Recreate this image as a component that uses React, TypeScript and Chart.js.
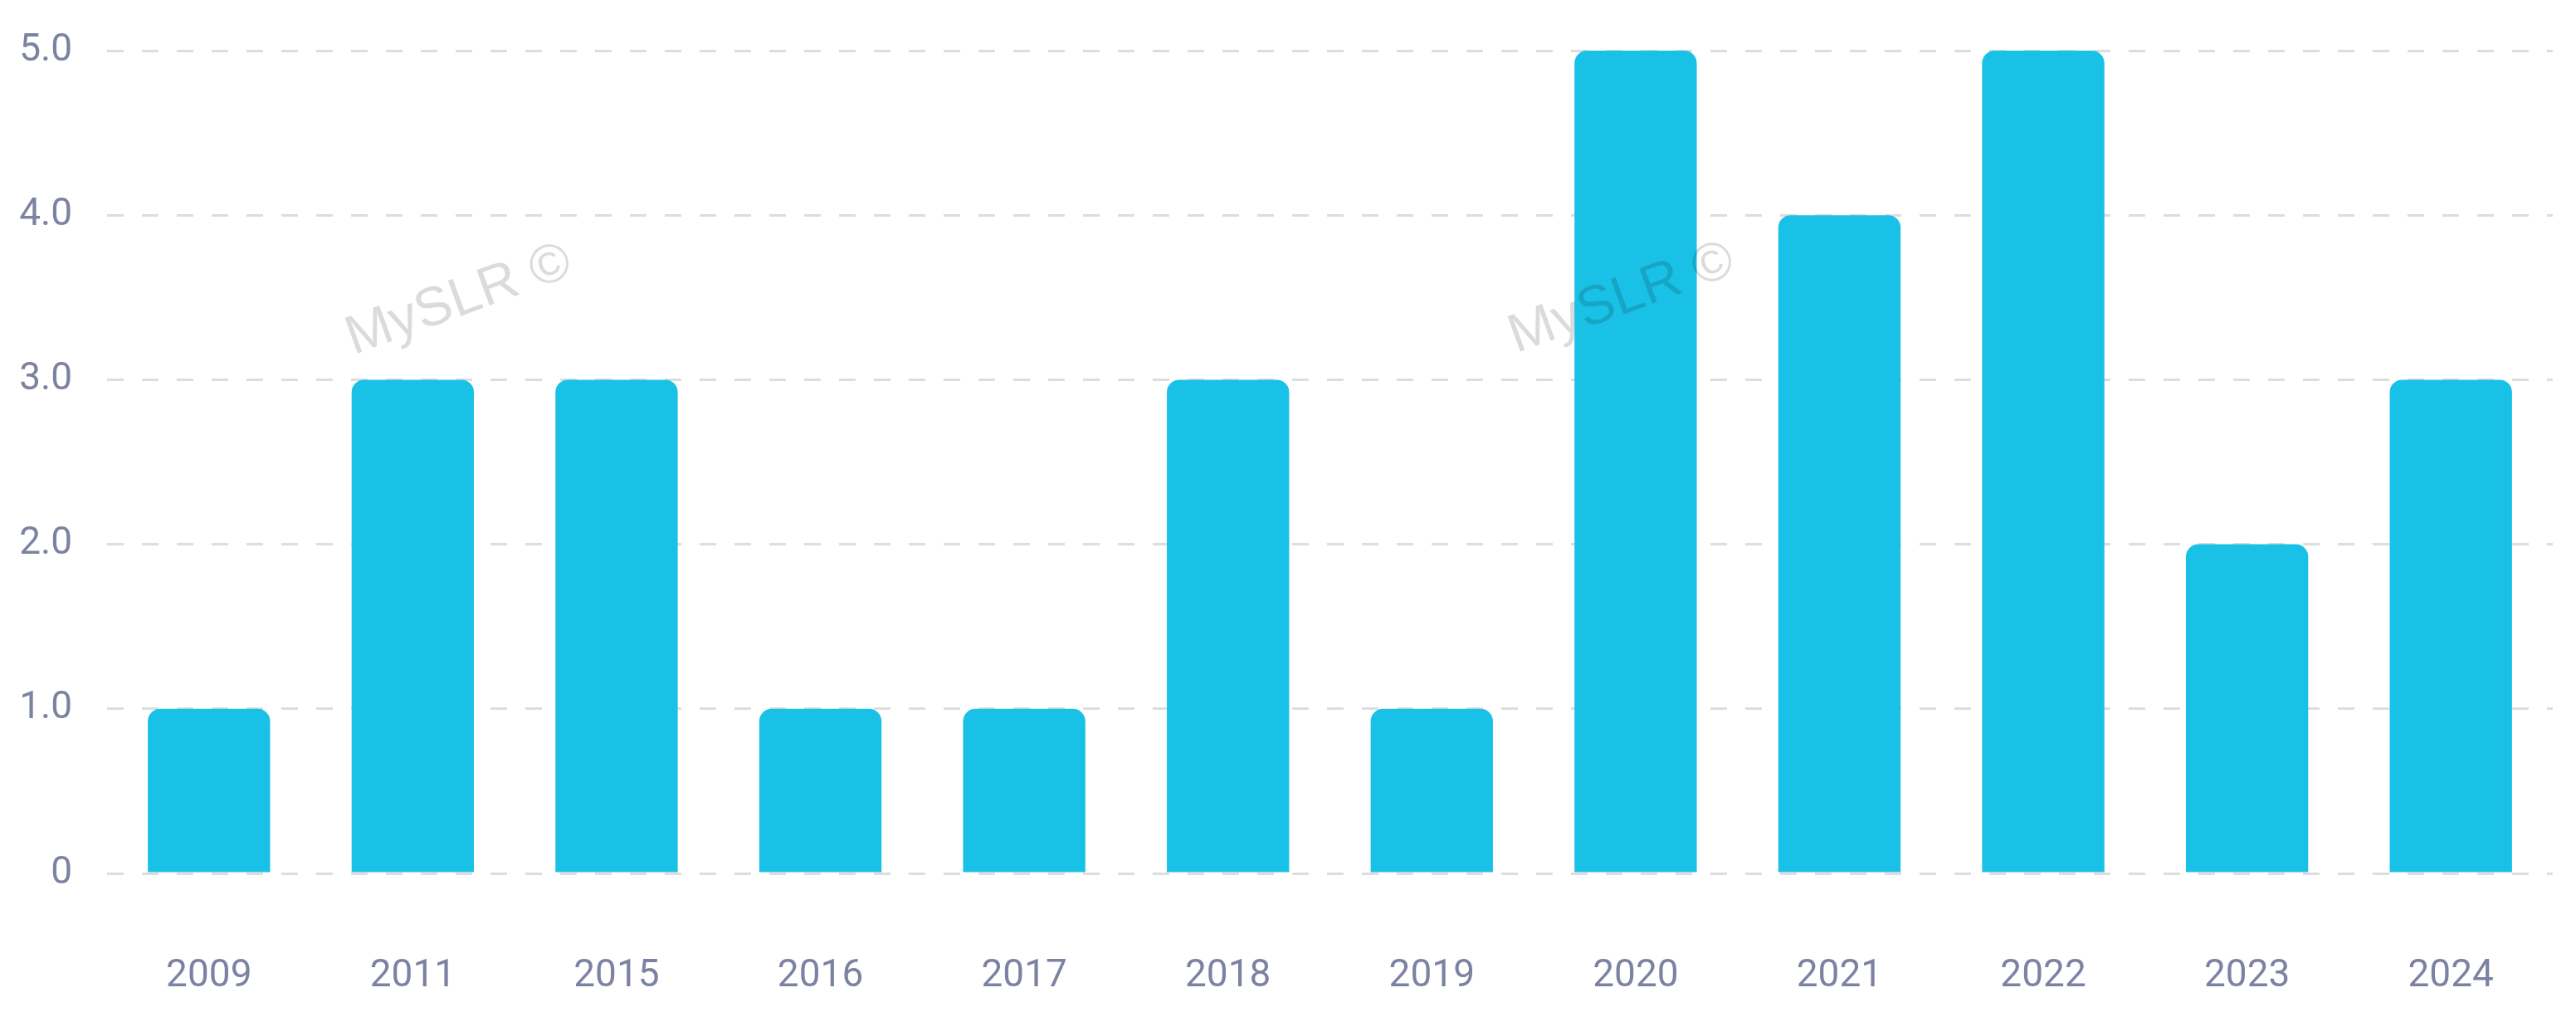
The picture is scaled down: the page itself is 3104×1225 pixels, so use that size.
import React, { useEffect, useRef } from "react";
import { Chart, registerables } from "chart.js";

Chart.register(...registerables);

const years: string[] = ["2009", "2011", "2015", "2016", "2017", "2018", "2019", "2020", "2021", "2022", "2023", "2024"];
const counts: number[] = [1, 3, 3, 1, 1, 3, 1, 5, 4, 5, 2, 3];
const yTicks: number[] = [0, 1, 2, 3, 4, 5];
const watermarkText = "MySLR ©";

const watermarkPlugin = {
  id: "watermark",
  afterDatasetsDraw(chart: any) {
    const ctx = chart.ctx;
    const spots = [
      [553, 362],
      [1954, 360],
    ];
    ctx.save();
    ctx.font = "66px 'Liberation Sans', Arial, sans-serif";
    ctx.fillStyle = "rgba(0,0,0,0.14)";
    ctx.textAlign = "center";
    ctx.textBaseline = "middle";
    for (const [x, y] of spots) {
      ctx.save();
      ctx.translate(x, y);
      ctx.rotate((-20 * Math.PI) / 180);
      ctx.fillText(watermarkText, 0, 0);
      ctx.restore();
    }
    ctx.restore();
  },
};

export default function App() {
  const canvasRef = useRef<HTMLCanvasElement | null>(null);

  useEffect(() => {
    if (!canvasRef.current) return;
    const labelColor = "#7c83a2";
    const chart = new Chart(canvasRef.current, {
      type: "bar",
      data: {
        labels: years,
        datasets: [
          {
            data: counts,
            backgroundColor: "#1ac1e6",
            borderWidth: 0,
            borderRadius: { topLeft: 15, topRight: 15, bottomLeft: 0, bottomRight: 0 },
            borderSkipped: "start",
            barPercentage: 0.6,
            categoryPercentage: 1,
          },
        ],
      },
      options: {
        animation: false,
        responsive: false,
        devicePixelRatio: 1,
        layout: { padding: { left: 0, right: 28, top: 61, bottom: 30 } },
        plugins: { legend: { display: false }, tooltip: { enabled: false } },
        scales: {
          x: {
            afterFit: (axis: any) => {
              axis.height = 143;
              axis.paddingLeft = 0;
              axis.paddingRight = 0;
            },
            grid: { display: false, drawTicks: false },
            border: { display: false },
            ticks: {
              color: labelColor,
              font: { family: "Roboto", size: 46 },
              padding: 97,
              maxRotation: 0,
              autoSkip: false,
            },
          },
          y: {
            min: 0,
            max: 5,
            afterBuildTicks: (axis: any) => {
              axis.ticks = yTicks.map((v) => ({ value: v }));
            },
            afterFit: (axis: any) => {
              axis.width = 129;
              axis.paddingTop = 0;
              axis.paddingBottom = 0;
            },
            grid: {
              color: "#dddddd",
              lineWidth: 3,
              drawTicks: false,
            },
            border: { display: false, dash: [20, 22] },
            ticks: {
              color: labelColor,
              font: { family: "Roboto", size: 46 },
              padding: 42,
              callback: (v: any) => (Number(v) === 0 ? "0" : Number(v).toFixed(1)),
            },
          },
        },
      },
      plugins: [watermarkPlugin],
    });
    return () => chart.destroy();
  }, []);

  return (
    <div style={{ position: "absolute", left: 0, top: 0, width: 3104, height: 1225, background: "#ffffff" }}>
      <canvas ref={canvasRef} width={3104} height={1225} style={{ display: "block", width: 3104, height: 1225 }} />
    </div>
  );
}
